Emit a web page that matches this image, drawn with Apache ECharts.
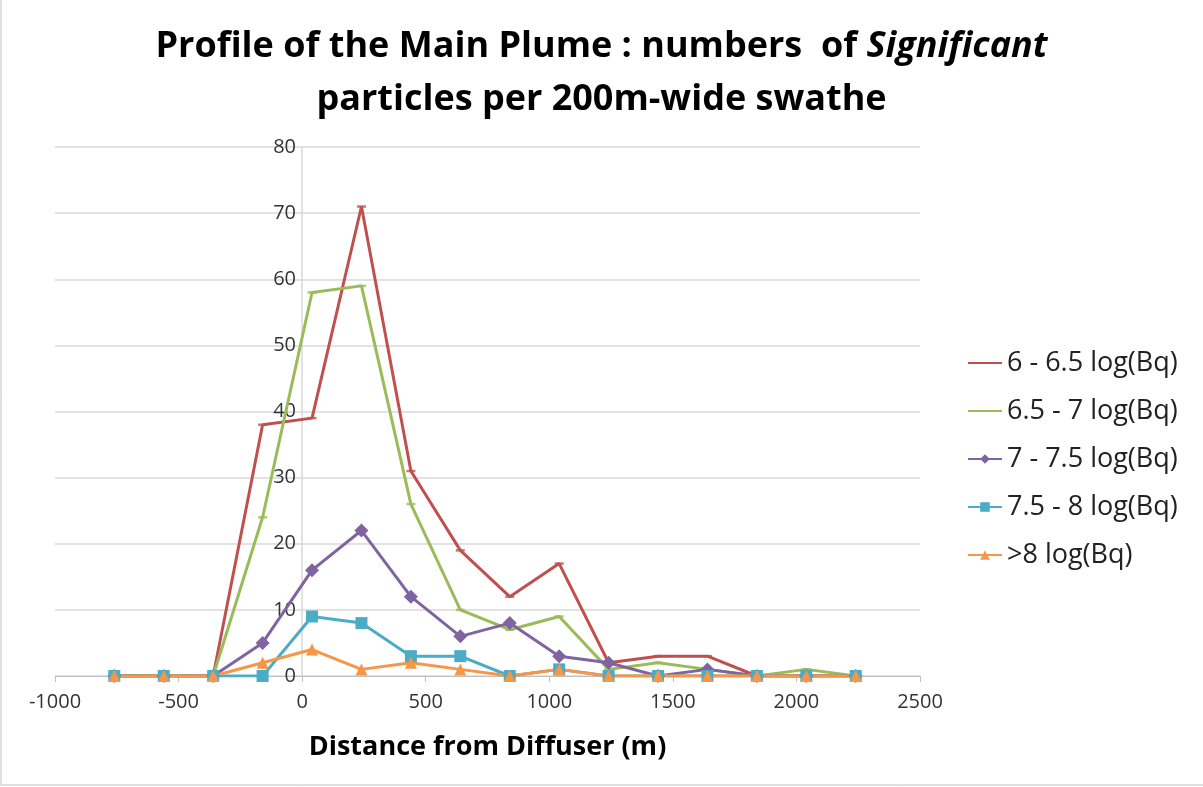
<!DOCTYPE html>
<html>
<head>
<meta charset="utf-8">
<script src="https://cdn.jsdelivr.net/npm/echarts@6/dist/echarts.min.js"></script>
<style>
  html, body { margin: 0; padding: 0; background: #fff; }
  #main { width: 1203px; height: 787px; }
</style>
</head>
<body>
<div id="main"></div>
<script>
// distance of each 200m swathe from the diffuser (m)
var distances = [-760, -560, -360, -160, 40, 240, 440, 640, 840, 1040, 1240, 1440, 1640, 1840, 2040, 2240];

// particle counts per class
var band1 = [0, 0, 0, 38, 39, 71, 31, 19, 12, 17, 2, 3, 3, 0, 0, 0];   // 6 - 6.5
var band2 = [0, 0, 0, 24, 58, 59, 26, 10, 7, 9, 1, 2, 1, 0, 1, 0];     // 6.5 - 7
var band3 = [0, 0, 0, 5, 16, 22, 12, 6, 8, 3, 2, 0, 1, 0, 0, 0];       // 7 - 7.5
var band4 = [0, 0, 0, 0, 9, 8, 3, 3, 0, 1, 0, 0, 0, 0, 0, 0];          // 7.5 - 8
var band5 = [0, 0, 0, 2, 4, 1, 2, 1, 0, 1, 0, 0, 0, 0, 0, 0];          // > 8

var names = ['6 - 6.5 log(Bq)', '6.5 - 7 log(Bq)', '7 - 7.5 log(Bq)', '7.5 - 8 log(Bq)', '>8 log(Bq)'];
var colors = ['#C0504D', '#9BBB59', '#8064A2', '#4BACC6', '#F79646'];

function pairs(vals) {
	var out = [];
	for (var i = 0; i < distances.length; i++) {
		out.push([distances[i], vals[i]]);
	}
	return out;
}

var myChart = echarts.init(document.getElementById('main'));

function lineSeries(name, vals, color, symbol, size) {
	return {
		name: name,
		type: 'line',
		data: pairs(vals),
		symbol: symbol,
		symbolSize: size,
		showAllSymbol: true,
		lineStyle: { color: color, width: 3 },
		itemStyle: { color: color },
		emphasis: { disabled: true }
	};
}

// small dash markers for the two first classes (kept out of the legend)
function dashSeries(vals, color) {
	return {
		name: 'dash' + color,
		type: 'scatter',
		data: pairs(vals),
		symbol: 'rect',
		symbolSize: [9, 2.5],
		itemStyle: { color: color },
		z: 3,
		emphasis: { disabled: true }
	};
}

var option = {
	animation: false,
	title: {
		text: '{b|Profile of the Main Plume : numbers  of }{i|Significant}\n{b|particles per 200m-wide swathe}',
		left: 'center',
		top: 15,
		textStyle: {
			rich: {
				b: { fontFamily: 'Open Sans', fontWeight: 'bold', fontSize: 36, color: '#000', lineHeight: 53 },
				i: { fontFamily: 'Open Sans', fontWeight: 'bold', fontStyle: 'italic', fontSize: 36, color: '#000', lineHeight: 53 }
			}
		}
	},
	legend: {
		orient: 'vertical',
		left: 962,
		top: 343,
		itemGap: 18,
		itemWidth: 34,
		itemHeight: 12,
		textStyle: { fontFamily: 'Open Sans', fontSize: 27, color: '#222', lineHeight: 30 },
		data: [
			{ name: names[0], itemStyle: { color: 'transparent', borderWidth: 0 } },
			{ name: names[1], itemStyle: { color: 'transparent', borderWidth: 0 } },
			names[2], names[3], names[4]
		]
	},
	grid: {
		left: 55,
		right: 283,
		top: 147,
		bottom: 111
	},
	xAxis: {
		type: 'value',
		min: -1000,
		max: 2500,
		interval: 500,
		name: 'Distance from Diffuser (m)',
		nameLocation: 'middle',
		nameGap: 58,
		nameTextStyle: { fontFamily: 'Open Sans', fontWeight: 'bold', fontSize: 27, color: '#000' },
		axisLine: { show: true, lineStyle: { color: '#bfbfbf', width: 1 } },
		axisTick: { show: true, length: 6, lineStyle: { color: '#bfbfbf' } },
		axisLabel: { fontFamily: 'Open Sans', fontSize: 20, color: '#333', margin: 16, formatter: function(v) { return String(v); } },
		splitLine: { show: false }
	},
	yAxis: {
		type: 'value',
		min: 0,
		max: 80,
		interval: 10,
		offset: -247,
		axisLine: { show: true, onZero: false, lineStyle: { color: '#d9d9d9', width: 1.5 } },
		axisTick: { show: false },
		axisLabel: { fontFamily: 'Open Sans', fontSize: 20, color: '#333', margin: 6 },
		splitLine: { show: true, lineStyle: { color: '#d9d9d9', width: 1.5 } }
	},
	graphic: [{
		type: 'polyline',
		shape: { points: [[1, 0], [1, 785], [1203, 785]] },
		style: { stroke: '#bfbfbf', lineWidth: 1, fill: null },
		silent: true
	}],
	series: [
		lineSeries(names[0], band1, colors[0], 'none', 0),
		lineSeries(names[1], band2, colors[1], 'none', 0),
		dashSeries(band1, colors[0]),
		dashSeries(band2, colors[1]),
		lineSeries(names[2], band3, colors[2], 'diamond', 14),
		lineSeries(names[3], band4, colors[3], 'rect', 12),
		lineSeries(names[4], band5, colors[4], 'triangle', 12)
	]
};

myChart.setOption(option);
</script>
</body>
</html>
